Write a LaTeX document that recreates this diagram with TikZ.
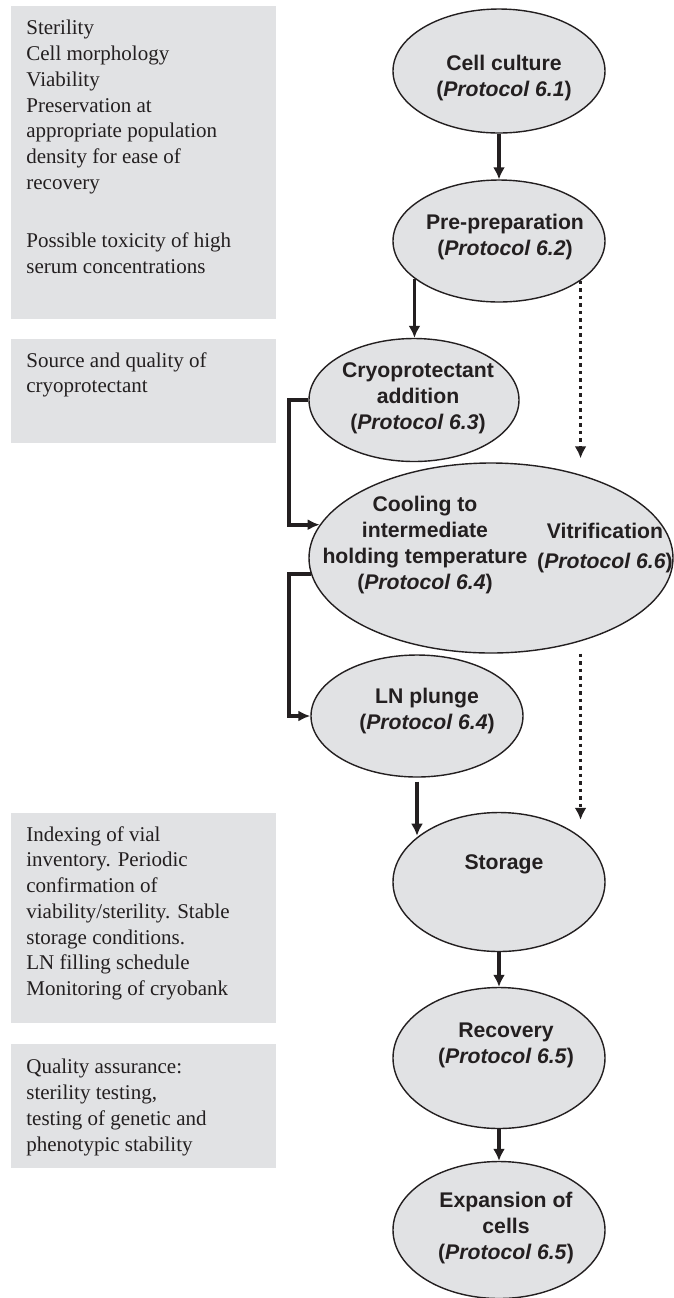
\documentclass[tikz,border=0pt]{standalone}
\usepackage{fontspec}
\setmainfont{Liberation Serif}
\setsansfont{Liberation Sans}
\usepackage{tikz}
\usetikzlibrary{arrows.meta}
\usetikzlibrary{shapes.geometric,calc}
\definecolor{panelgray}{RGB}{225,226,228}
\definecolor{inkblack}{RGB}{35,31,32}

\begin{document}
\begin{tikzpicture}[x=0.5pt, y=-0.5pt,
		notebox/.style={rectangle, fill=panelgray, minimum width=132.5pt, inner sep=0pt, anchor=north west},
		notetext/.style={anchor=north west, inner sep=0pt, align=left, text=inkblack, font=\fontsize{10.5}{12.85}\selectfont},
		stage/.style={ellipse, draw=inkblack, line width=0.7pt, fill=panelgray, inner sep=0pt},
		stagetext/.style={align=center, text=inkblack, font=\fontsize{10.6}{13}\selectfont\sffamily\bfseries},
		flow/.style={draw=inkblack, line width=1.6pt, -{Latex[length=6pt,width=6pt]}},
		bracket/.style={draw=inkblack, line width=2pt, -{Latex[length=6pt,width=5.5pt]}},
		bypass/.style={draw=inkblack, line width=1.5pt, dash pattern=on 1.85pt off 1.9pt, -{Latex[length=6pt,width=6pt]}}]
		\useasboundingbox (0,0) rectangle (674,1298);
		
		\node (notecult) [notebox, minimum height=156.5pt] at (11,6) {};
		\node (notecultext) [notetext] at (26,20) {Sterility\\Cell morphology\\Viability\\Preservation at\\appropriate population\\density for ease of\\recovery\\[16.5pt]Possible toxicity of high\\serum concentrations};
		
		\node (notecryo) [notebox, minimum height=52pt] at (11,339) {};
		\node (notecryotext) [notetext] at (26,352) {Source and quality of\\cryoprotectant};
		
		\node (notestore) [notebox, minimum height=105pt] at (11,813) {};
		\node (notestoretext) [notetext] at (26,826) {Indexing of vial\\inventory. Periodic\\confirmation of\\viability/sterility. Stable\\storage conditions.\\LN filling schedule\\Monitoring of cryobank};
		
		\node (notequal) [notebox, minimum height=62pt] at (11,1044) {};
		\node (notequaltext) [notetext] at (26,1059) {Quality assurance:\\sterility testing,\\testing of genetic and\\phenotypic stability};
		
		\node (cultureoval) [stage, minimum width=106pt, minimum height=62pt] at (499,71) {};
		\node (culturetext) [stagetext] at (504,78) {Cell culture\\(\textit{Protocol 6.1})};
		
		\node (prepoval) [stage, minimum width=106pt, minimum height=61pt] at (499,241) {};
		\node (preptext) [stagetext] at (505,237) {Pre-preparation\\(\textit{Protocol 6.2})};
		
		\node (cryooval) [stage, minimum width=105pt, minimum height=61.5pt] at (414,400) {};
		\node (cryotext) [stagetext] at (418,398) {Cryoprotectant\\addition\\(\textit{Protocol 6.3})};
		
		\node (coolingoval) [stage, minimum width=182pt, minimum height=95pt] at (491,558) {};
		\node (coolingtext) [stagetext] at (425,545) {Cooling to\\intermediate\\holding temperature\\(\textit{Protocol 6.4})};
		\node (vitritext) [stagetext] at (605,548) {Vitrification\\[2pt](\textit{Protocol 6.6})};
		
		\node (lnplungeoval) [stage, minimum width=106pt, minimum height=61pt] at (417,716) {};
		\node (lnplungetext) [stagetext] at (427,711) {LN plunge\\(\textit{Protocol 6.4})};
		
		\node (storageoval) [stage, minimum width=106pt, minimum height=69.5pt] at (499,882) {};
		\node (storagetext) [stagetext] at (504,864) {Storage};
		
		\node (recoveryoval) [stage, minimum width=106pt, minimum height=70.5pt] at (499,1058) {};
		\node (recoverytext) [stagetext] at (506,1045) {Recovery\\(\textit{Protocol 6.5})};
		
		\node (expansionoval) [stage, minimum width=106pt, minimum height=68.5pt] at (499,1230) {};
		\node (expansiontext) [stagetext] at (506,1228) {Expansion of\\cells\\(\textit{Protocol 6.5})};
		
		\coordinate (dropend) at ([yshift=-4pt]storageoval.north);
		\coordinate (vitrisend) at ([yshift=2pt]coolingoval.north);
		
		\draw [flow] (cultureoval) -- (prepoval);
		\draw [flow] (prepoval.204) -- (prepoval.204 |- cryooval.north);
		\draw [bypass] (prepoval.334) -- (prepoval.334 |- vitrisend);
		\draw [bracket] (cryooval.west) -- ++(-19,0) |- (coolingoval.169);
		\draw [bracket] (coolingoval.185) -- ++(-22,0) |- (lnplungeoval.west);
		\draw [bypass] (prepoval.334 |- coolingoval.south) -- (prepoval.334 |- dropend);
		\draw [flow] ([yshift=-2pt]lnplungeoval.south) -- (lnplungeoval.south |- storageoval.150);
		\draw [flow] (storageoval) -- (recoveryoval);
		\draw [flow] (recoveryoval) -- (expansionoval);
		
\end{tikzpicture}
\end{document}
